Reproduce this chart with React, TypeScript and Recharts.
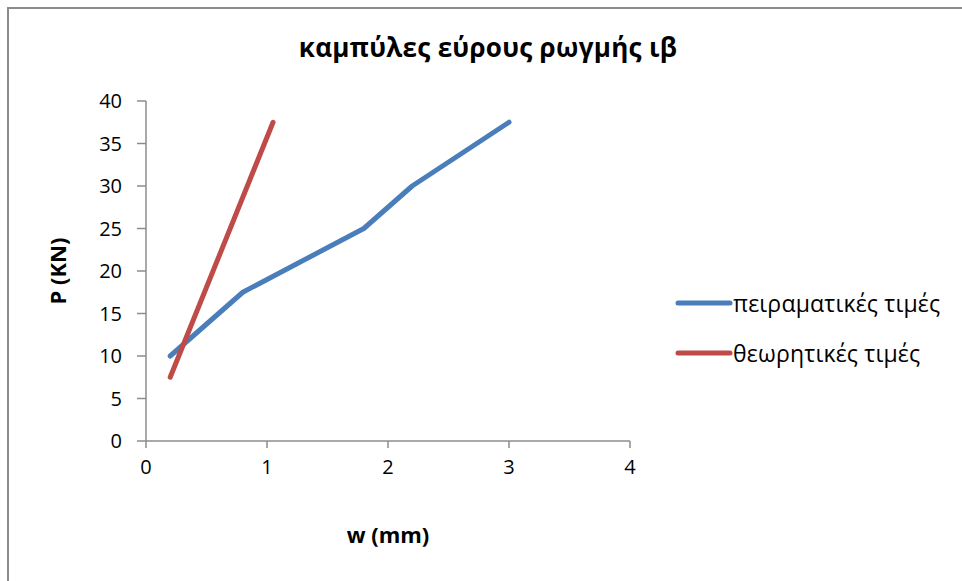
import { LineChart, Line, XAxis, YAxis, Label } from "recharts";

// πειραματικές τιμές
const experimentalW = [0.2, 0.8, 1.8, 2.2, 3];
const experimentalP = [10, 17.5, 25, 30, 37.5];
// θεωρητικές τιμές
const theoreticalW = [0.2, 1.05];
const theoreticalP = [7.5, 37.5];

const xTicks = [0, 1, 2, 3, 4];
const yTicks = [0, 5, 10, 15, 20, 25, 30, 35, 40];

const seriesNames = ["πειραματικές τιμές", "θεωρητικές τιμές"];
const seriesColors = ["#4a7ebb", "#be4b48"];

const experimental = experimentalW.map((w, i) => ({ w, p: experimentalP[i] }));
const theoretical = theoreticalW.map((w, i) => ({ w, p: theoreticalP[i] }));

const FONT = "'Open Sans', sans-serif";

function LegendBox() {
  return (
    <div style={{ position: "absolute", left: 674, top: 278, fontFamily: FONT, fontSize: 23, color: "#000", letterSpacing: 0.2 }}>
      {seriesNames.map((name, i) => (
        <div key={name} style={{ display: "flex", alignItems: "center", height: 50 }}>
          <svg width={59} height={10}>
            <line x1={4} y1={5} x2={56} y2={5} stroke={seriesColors[i]} strokeWidth={5} strokeLinecap="round" />
          </svg>
          <span>{name}</span>
        </div>
      ))}
    </div>
  );
}

export default function App() {
  const axisLine = { stroke: "#8c8c8c", strokeWidth: 1.5 };
  const tick = { fill: "#000", fontSize: 20, fontFamily: FONT };
  return (
    <div style={{ position: "absolute", left: 0, top: 0, width: 962, height: 581, background: "#fff", overflow: "hidden" }}>
      <div
        style={{
          position: "absolute",
          left: 7,
          top: 7,
          width: 980,
          height: 600,
          border: "2.5px solid #8c8c8c",
          boxSizing: "border-box",
        }}
      />
      <div
        style={{
          position: "absolute",
          left: 0,
          width: 976,
          top: 29,
          textAlign: "center",
          fontFamily: FONT,
          fontWeight: 700,
          fontSize: 26,
          letterSpacing: 0.3,
          color: "#000",
        }}
      >
        καμπύλες εύρους ρωγμής ιβ
      </div>
      <LineChart
        width={962}
        height={581}
        margin={{ top: 101, right: 332, bottom: 100, left: 0 }}
        style={{ position: "absolute", left: 0, top: 0 }}
      >
        <XAxis
          dataKey="w"
          type="number"
          domain={[0, 4]}
          ticks={xTicks}
          allowDataOverflow
          axisLine={axisLine}
          tickLine={axisLine}
          tickSize={7}
          tickMargin={12}
          tick={tick}
          height={40}
        >
          <Label
            value="w (mm)"
            position="bottom"
            offset={46}
            style={{ fontFamily: FONT, fontWeight: 700, fontSize: 22, fill: "#000" }}
          />
        </XAxis>
        <YAxis
          dataKey="p"
          type="number"
          domain={[0, 40]}
          ticks={yTicks}
          axisLine={axisLine}
          tickLine={axisLine}
          tickSize={9}
          tickMargin={15}
          tick={tick}
          width={146}
        >
          <Label
            value="P (KN)"
            angle={-90}
            position="insideLeft"
            offset={58}
            style={{ fontFamily: FONT, fontWeight: 700, fontSize: 22, fill: "#000", textAnchor: "middle" }}
          />
        </YAxis>
        <Line
          data={experimental}
          dataKey="p"
          name={seriesNames[0]}
          stroke={seriesColors[0]}
          strokeWidth={5}
          strokeLinecap="round"
          strokeLinejoin="round"
          dot={false}
          isAnimationActive={false}
        />
        <Line
          data={theoretical}
          dataKey="p"
          name={seriesNames[1]}
          stroke={seriesColors[1]}
          strokeWidth={5}
          strokeLinecap="round"
          strokeLinejoin="round"
          dot={false}
          isAnimationActive={false}
        />
      </LineChart>
      <LegendBox />
    </div>
  );
}
